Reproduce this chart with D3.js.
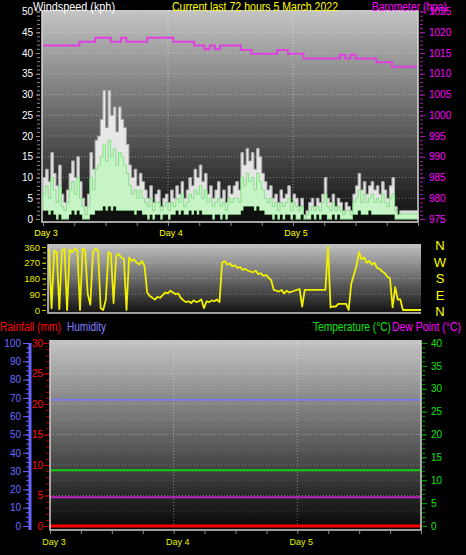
<!DOCTYPE html>
<html><head><meta charset="utf-8">
<script src="https://cdn.jsdelivr.net/npm/d3@7"></script>
<style>
html,body{margin:0;padding:0;background:#000;}
svg{display:block;font-family:"Liberation Sans",Arial,sans-serif;}
</style></head>
<body><svg id="c" width="466" height="555"></svg>
<script>
// ---------- DATA ----------
const dayLabels = ["Day 3", "Day 4", "Day 5"];
const dayHours = [0, 24, 48];
// wind, half-hourly samples over 72 hours (kph)
const windGust = [10,12,9,16,11,8,13, 6,4,7, 11,14,10,15,9, 5,3,6, 16,12,19, 20,24,31,22,31,25,27,21,27,24,22, 18,13,10, 12,8,11,9, 7,5,8,4,6,7,3,5,6, 4,7,5,8,6,9,5,7,10,8, 12,10,13,9,11, 6,8,5,7,9, 5,7,4,8,6, 8,9,7, 16,13,17,14,16,12,17,15,11, 9,7,8, 5,6,4,7,5,6,8,4,6,5,3,5, 1,2, 4,5,3,5,4,6, 10, 5,4,6,3,5,4, 2,4,3,2, 6,8,11,7,9,6,8,9,7,8,6,9,7, 5,8,10, 3,1, 2,2,2,2,2,2,2,2];
const windAvg = [6,8,5,10,7,4,8, 3,2,4, 7,9,6,10,5, 3,1,3, 10,7,12, 13,15,18,14,19,15,17,13,16,15,13, 11,8,6, 7,5,7,5, 4,3,5,2,4,4,2,3,4, 2,4,3,5,4,6,3,4,6,5, 7,6,8,5,7, 4,5,3,4,5, 3,4,2,5,4, 5,5,4, 10,8,11,9,10,7,11,9,7, 5,4,5, 3,4,2,4,3,4,5,2,4,3,2,3, 0,1, 2,3,2,3,2,4, 6, 3,2,4,2,3,2, 1,2,2,1, 4,5,7,4,6,4,5,6,4,5,4,6,4, 3,5,6, 2,1, 1.2,1.2,1.2,1.2,1.2,1.2,1.2,1.2];
const windLull = [2,2,1,2,1,0,1, 0,0,0, 1,2,1,2,1, 0,0,0, 1,1,2, 2,2,3,2,3,2,3,2,2,2,2, 2,2,2, 1,2,2,1, 1,0,1,0,1,1,0,1,1, 0,1,1,2,1,2,1,1,2,1, 2,1,2,1,1, 1,1,0,1,1, 0,1,0,1,1, 1,1,1, 2,3,3,3,3,2,3,2,2, 1,1,1, 0,1,0,1,0,1,1,0,1,0,0,1, 0,0, 0,1,0,1,0,1, 1, 0,0,1,0,1,0, 0,0,0,0, 1,1,2,1,1,1,2,1,1,1,1,1,1, 1,1,1, 0,0, 0,0,0,0,0,0,0,0];
// barometer, hourly (hPa)
const baro = [1016.8,1016.8,1016.8,1016.8,1016.8,1016.8,1016.8, 1017.7,1017.7,1017.7, 1018.7,1018.7,1018.7, 1017.7,1017.7, 1018.7, 1017.7,1017.7,1017.7,1017.7, 1018.7,1018.7,1018.7,1018.7,1018.7, 1017.7,1017.7,1017.7,1017.7, 1016.8,1016.8, 1015.9,1016.8,1015.9, 1016.8,1016.8,1016.8,1016.8, 1015.7,1015.7, 1014.8,1014.8,1014.8,1014.8,1014.8, 1015.7,1015.7, 1014.8,1014.8,1014.8, 1013.7,1013.7,1013.7,1013.7,1013.7,1013.7,1013.7, 1014.6,1013.7,1014.6,1013.7, 1013.7,1013.7,1013.7, 1012.8,1012.8,1012.8, 1011.7,1011.7,1011.7,1011.7,1011.7,1011.7];
// wind direction, half-hourly (degrees)
const windDir = [350,10,340,330,5,340,350,0,345,330,350,340,0,350,340,90,30,330,350,340,10,0,60,330,320,40,310,320,300,290,0,300,280,290,270,260,280,250,100,80,70,60,75,70,85,100,95,110,100,90,95,70,55,45,50,40,55,45,50,60,10,50,45,55,50,60,45,270,280,260,265,250,255,240,245,230,235,225,220,215,225,205,210,195,200,185,170,115,110,105,115,95,110,100,105,110,115,120,20,115,115,115,115,115,115,115,115,115,360,15,20,20,35,35,35,35,0,150,200,250,330,290,300,270,280,260,270,240,235,220,210,190,180,15,130,60,60,0,0,0,0,0,0,0,0];
const compass = ["N","W","S","E","N"];
// lower panel (flat readings over the period)
const rainfall = [0, 0];
const humidity = [69, 69];
const temperature = [12.2, 12.2];
const dewPoint = [6.3, 6.3];
const periodHours = [0, 72];
const windTicks = [0,5,10,15,20,25,30,35,40,45,50];
const baroTicks = [975,980,985,990,995,1000,1005,1010,1015,1020,1025];
const dirTicks = [0,90,180,270,360];
const humTicks = [0,10,20,30,40,50,60,70,80,90,100];
const rainTicks = [0,5,10,15,20,25,30];
const tempTicks = [0,5,10,15,20,25,30,35,40];

// ---------- SETUP ----------
const svg = d3.select("#c");
svg.append("rect").attr("width",466).attr("height",555).attr("fill","#000");
const defs = svg.append("defs");
function grad(id, top, bottom){
  const g = defs.append("linearGradient").attr("id",id).attr("x1",0).attr("y1",0).attr("x2",0).attr("y2",1);
  g.append("stop").attr("offset","0%").attr("stop-color",top);
  g.append("stop").attr("offset","100%").attr("stop-color",bottom);
}
grad("g1","#c4c4c4","#0c0c0c");
grad("g2","#c2c2c2","#121212");
grad("g3","#c4c4c4","#050505");

const font = "Liberation Sans, Arial, sans-serif";
function txt(x,y,s,col,size,len){
  const t = svg.append("text").attr("x",x).attr("y",y).text(s).attr("fill",col)
    .attr("font-size",size).attr("font-family",font);
  if(len) t.attr("textLength",len).attr("lengthAdjust","spacingAndGlyphs");
  return t;
}
function styleAxis(g, col, labCol, size){
  g.select(".domain").remove();
  g.selectAll(".tick line").attr("stroke",col);
  g.selectAll(".tick text").attr("fill",labCol).attr("font-size",size||10).attr("font-family",font);
}
function range(a,b,s){const r=[];for(let v=a;v<=b+1e-9;v+=s)r.push(v);return r;}
const fmt = d3.format("d");

// ---------- TOP PANEL ----------
const P1 = {l:42, r:418, t:10, b:222};
const x1 = d3.scaleLinear().domain([0,72]).range([43,418]);
const yW = d3.scaleLinear().domain([0,50]).range([219,11.5]);
const yB = d3.scaleLinear().domain([975,1025]).range([219,11.5]);
svg.append("rect").attr("x",P1.l).attr("y",P1.t).attr("width",P1.r-P1.l).attr("height",P1.b-P1.t).attr("fill","url(#g1)");
const gr1 = svg.append("g");
gr1.selectAll("line.h").data(windTicks.slice(1)).join("line")
  .attr("x1",P1.l).attr("x2",P1.r).attr("y1",d=>yW(d)).attr("y2",d=>yW(d))
  .attr("stroke","rgba(255,255,255,0.35)").attr("stroke-dasharray","1,2");
gr1.selectAll("line.h2").data(windTicks.slice(1).map(d=>d-2.5)).join("line")
  .attr("x1",P1.l).attr("x2",P1.r).attr("y1",d=>yW(d)).attr("y2",d=>yW(d))
  .attr("stroke","rgba(255,255,255,0.15)").attr("stroke-dasharray","1,3");
gr1.selectAll("line.v").data(dayHours.slice(1)).join("line")
  .attr("x1",d=>x1(d)).attr("x2",d=>x1(d)).attr("y1",P1.t).attr("y2",P1.b)
  .attr("stroke","rgba(255,255,255,0.45)").attr("stroke-dasharray","1,2");

const tHalf = i => i*0.5;
const areaG = d3.area().x((d,i)=>x1(tHalf(i))).y0((d,i)=>yW(windLull[i])).y1(d=>yW(d)).curve(d3.curveStepAfter);
svg.append("path").datum(windGust).attr("d",areaG).attr("fill","#f4f4f4").attr("fill-opacity",0.92)
  .attr("stroke","#a8a8a8").attr("stroke-width",1);
const areaA = d3.area().x((d,i)=>x1(tHalf(i))).y0((d,i)=>yW(windLull[i])).y1(d=>yW(d)).curve(d3.curveStepAfter);
svg.append("path").datum(windAvg).attr("d",areaA).attr("fill","#c4f4c4").attr("fill-opacity",0.95)
  .attr("stroke","#70e070").attr("stroke-width",0.8);
const areaL = d3.area().x((d,i)=>x1(tHalf(i))).y0(yW(0)).y1(d=>yW(d)).curve(d3.curveStepAfter);
svg.append("path").datum(windLull).attr("d",areaL).attr("fill","#101010");
const lineB = d3.line().x((d,i)=>x1(i)).y(d=>yB(d)).curve(d3.curveStepAfter);
svg.append("path").datum(baro).attr("d",lineB).attr("fill","none").attr("stroke","#e040e0").attr("stroke-width",2);
svg.append("path").attr("d",`M${P1.l},${P1.t}V${P1.b}H${P1.r}V${P1.t}`).attr("fill","none").attr("stroke","#d8d8d8").attr("stroke-width",1.5);
const aw = svg.append("g").attr("transform",`translate(${P1.l-2},0)`).call(d3.axisLeft(yW).tickValues(windTicks).tickSize(4).tickPadding(3));
styleAxis(aw,"#9a9a9a","#ffffff",10);
const awm = svg.append("g").attr("transform",`translate(${P1.l-2},0)`).call(d3.axisLeft(yW).tickValues(range(0,50,1)).tickSize(3).tickFormat(""));
styleAxis(awm,"#8a8a8a","#fff");
const ab = svg.append("g").attr("transform",`translate(${P1.r+2},0)`).call(d3.axisRight(yB).tickValues(baroTicks).tickSize(5).tickPadding(4).tickFormat(fmt));
styleAxis(ab,"#b020b0","#ff00ff",10);
const abm = svg.append("g").attr("transform",`translate(${P1.r+2},0)`).call(d3.axisRight(yB).tickValues(range(975,1025,1)).tickSize(3).tickFormat(""));
styleAxis(abm,"#a020a0","#f0f");
const ax1 = svg.append("g").attr("transform",`translate(0,${P1.b+1})`).call(d3.axisBottom(x1).tickValues(range(0,72,6)).tickSize(3).tickFormat(""));
styleAxis(ax1,"#8a8a8a","#fff");
svg.append("g").selectAll("text").data(dayLabels).join("text")
  .attr("x",(d,i)=>x1(dayHours[i])+3).attr("y",236).text(d=>d)
  .attr("fill","#ffff00").attr("font-size",9).attr("text-anchor","middle").attr("font-family",font);
txt(33,11,"Windspeed (kph)","#ffffff",12,82);
txt(172,11,"Current last 72 hours 5 March 2022","#ffff00",12,166);
txt(372,11,"Barometer (hpa)","#ff00ff",12,75);

// ---------- MIDDLE PANEL ----------
const P2 = {l:48, r:421, t:244, b:313};
const x2 = d3.scaleLinear().domain([0,72]).range([49,421]);
const yD = d3.scaleLinear().domain([0,360]).range([310,247]);
svg.append("rect").attr("x",P2.l).attr("y",P2.t).attr("width",P2.r-P2.l).attr("height",P2.b-P2.t).attr("fill","url(#g2)");
svg.append("g").selectAll("line").data(dirTicks.slice(1)).join("line")
  .attr("x1",P2.l).attr("x2",P2.r).attr("y1",d=>yD(d)).attr("y2",d=>yD(d))
  .attr("stroke","rgba(255,255,255,0.3)").attr("stroke-dasharray","1,2");
const lineD = d3.line().x((d,i)=>x2(tHalf(i))).y(d=>yD(d));
svg.append("path").datum(windDir).attr("d",lineD).attr("fill","none").attr("stroke","#f0f000").attr("stroke-width",1.8).attr("stroke-linejoin","round");
svg.append("path").attr("d",`M${P2.l},${P2.t}V${P2.b}H${P2.r}`).attr("fill","none").attr("stroke","#d0d0d0").attr("stroke-width",1.5);
const ad = svg.append("g").attr("transform",`translate(${P2.l-2},0)`).call(d3.axisLeft(yD).tickValues(dirTicks).tickSize(4).tickPadding(2));
styleAxis(ad,"#c8c800","#e8e800",9.5);
const adm = svg.append("g").attr("transform",`translate(${P2.l-2},0)`).call(d3.axisLeft(yD).tickValues(range(0,360,30)).tickSize(3).tickFormat(""));
styleAxis(adm,"#b8b800","#ee0");
svg.append("g").selectAll("text").data(compass).join("text")
  .attr("x",440).attr("y",(d,i)=>250+i*16.5).text(d=>d)
  .attr("fill","#ffff00").attr("font-size",13).attr("text-anchor","middle").attr("font-family",font);

// ---------- BOTTOM PANEL ----------
const P3 = {l:50, r:421, t:340, b:530};
const x3 = d3.scaleLinear().domain([0,72]).range([50,421]);
const yR = d3.scaleLinear().domain([0,30]).range([526,343]);
const yH = d3.scaleLinear().domain([0,100]).range([526,343]);
const yT = d3.scaleLinear().domain([0,40]).range([526,343]);
svg.append("rect").attr("x",P3.l).attr("y",P3.t).attr("width",P3.r-P3.l).attr("height",P3.b-P3.t).attr("fill","url(#g3)");
const gr3 = svg.append("g");
gr3.selectAll("line.h").data(range(2.5,30,2.5)).join("line")
  .attr("x1",P3.l).attr("x2",P3.r).attr("y1",d=>yR(d)).attr("y2",d=>yR(d))
  .attr("stroke",(d,i)=>i%2? "rgba(255,255,255,0.32)":"rgba(255,255,255,0.18)").attr("stroke-dasharray","1,2");
gr3.selectAll("line.v").data(dayHours.slice(1)).join("line")
  .attr("x1",d=>x3(d)).attr("x2",d=>x3(d)).attr("y1",P3.t).attr("y2",P3.b)
  .attr("stroke","rgba(255,255,255,0.4)").attr("stroke-dasharray","1,2");
const lh = (ys)=>d3.line().x(d=>x3(d)).y((d,i)=>ys[i]);
svg.append("path").datum(periodHours).attr("d",lh(humidity.map(yH))).attr("stroke","#7878ff").attr("stroke-width",1.5).attr("fill","none");
svg.append("path").datum(periodHours).attr("d",lh(temperature.map(yT))).attr("stroke","#10d010").attr("stroke-width",2).attr("fill","none");
svg.append("path").datum(periodHours).attr("d",lh(dewPoint.map(yT))).attr("stroke","#c020c0").attr("stroke-width",2).attr("fill","none");
svg.append("path").datum(periodHours).attr("d",lh(rainfall.map(yR))).attr("stroke","#ff0000").attr("stroke-width",3).attr("fill","none");
svg.append("path").attr("d",`M${P3.l},${P3.t}V${P3.b}H${P3.r}V${P3.t}`).attr("fill","none").attr("stroke","#d0d0d0").attr("stroke-width",1.5);
svg.append("line").attr("x1",30).attr("x2",30).attr("y1",yH(100)).attr("y2",530).attr("stroke","#6464ff").attr("stroke-width",3);
const ah = svg.append("g").attr("transform","translate(29,0)").call(d3.axisLeft(yH).tickValues(humTicks).tickSize(6).tickPadding(2));
styleAxis(ah,"#6464ff","#6a6aff",10);
const ahm = svg.append("g").attr("transform","translate(29,0)").call(d3.axisLeft(yH).tickValues(range(0,100,2.5)).tickSize(3).tickFormat(""));
styleAxis(ahm,"#6464ff","#66f");
const ar = svg.append("g").attr("transform",`translate(${P3.l-1},0)`).call(d3.axisLeft(yR).tickValues(rainTicks).tickSize(5).tickPadding(1));
styleAxis(ar,"#e00000","#ff1010",10);
const arm = svg.append("g").attr("transform",`translate(${P3.l-1},0)`).call(d3.axisLeft(yR).tickValues(range(0,30,1)).tickSize(3).tickFormat(""));
styleAxis(arm,"#c00000","#f00");
const at = svg.append("g").attr("transform",`translate(${P3.r+1},0)`).call(d3.axisRight(yT).tickValues(tempTicks).tickSize(5).tickPadding(4));
styleAxis(at,"#00b000","#10e010",10);
const atm = svg.append("g").attr("transform",`translate(${P3.r+1},0)`).call(d3.axisRight(yT).tickValues(range(0,40,1)).tickSize(3).tickFormat(""));
styleAxis(atm,"#009000","#0c0");
const ax3 = svg.append("g").attr("transform",`translate(0,${P3.b+1})`).call(d3.axisBottom(x3).tickValues(range(0,72,6)).tickSize(3).tickFormat(""));
styleAxis(ax3,"#8a8a8a","#fff");
svg.append("g").selectAll("text").data(dayLabels).join("text")
  .attr("x",(d,i)=>x3(dayHours[i])+4).attr("y",545).text(d=>d)
  .attr("fill","#e0f000").attr("font-size",9).attr("text-anchor","middle").attr("font-family",font);
txt(0,331,"Rainfall (mm)","#ff0000",12,61);
txt(67,331,"Humidity","#8080ff",12,39);
txt(313,331,"Temperature (°C)","#10e010",12,78);
txt(392,331,"Dew Point (°C)","#ff00ff",12,69);
</script></body></html>
